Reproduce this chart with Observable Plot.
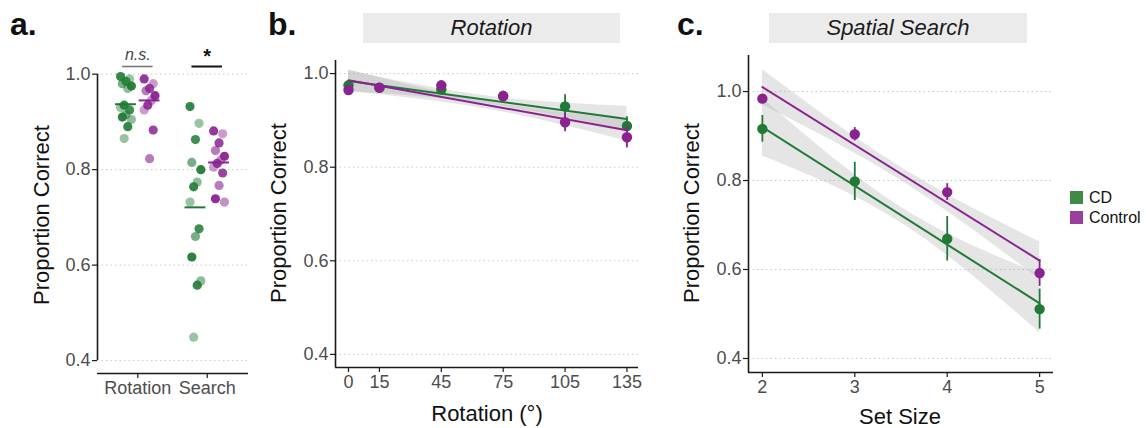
<!DOCTYPE html>
<html>
<head>
<meta charset="utf-8">
<script src="https://cdn.jsdelivr.net/npm/d3@7"></script>
<script src="https://cdn.jsdelivr.net/npm/@observablehq/plot@0.6"></script>
<style>
  html, body { margin: 0; padding: 0; background: #fff; }
  #wrap { position: relative; width: 1146px; height: 428px; overflow: hidden; font-family: "Liberation Sans", Arial, Helvetica, sans-serif; }
  #wrap svg { position: absolute; left: 0; top: 0; }
  .lbl { position: absolute; line-height: 1; white-space: nowrap; color: #111; }
  .panel { font-weight: bold; font-size: 32px; }
  .strip { position: absolute; background: #ebebeb; display: flex; align-items: center; justify-content: center; font-style: italic; font-size: 22px; color: #1a1a1a; }
  .ytitle { font-size: 22px; transform: translate(-50%, -50%) rotate(-90deg); }
  .xtitle { font-size: 22px; transform: translate(-50%, -50%); }
  .sw { position: absolute; width: 13px; height: 13px; }
  .leg { position: absolute; font-size: 16px; line-height: 1; transform: translateY(-50%); color: #111; }
</style>
</head>
<body>
<div id="wrap"></div>
<script>
// ---------------- DATA ----------------
const groups = ["CD", "Control"];
const categoriesA = ["Rotation", "Search"];
// panel a: individual participants' proportion correct
const cdRotation   = [0.995, 0.99, 0.985, 0.98, 0.975, 0.97, 0.935, 0.93, 0.925, 0.915, 0.91, 0.905, 0.89, 0.865];
const ctrlRotation = [0.99, 0.98, 0.97, 0.965, 0.955, 0.945, 0.935, 0.925, 0.883, 0.823];
const cdSearch     = [0.932, 0.897, 0.863, 0.815, 0.80, 0.774, 0.764, 0.732, 0.676, 0.66, 0.617, 0.567, 0.558, 0.449];
const ctrlSearch   = [0.881, 0.875, 0.856, 0.84, 0.828, 0.82, 0.813, 0.805, 0.793, 0.767, 0.739, 0.732];
const meansA = { CD: [0.937, 0.721], Control: [0.945, 0.815] };
const sigLabels = ["n.s.", "*"];

// panel b: rotation
const angles = [0, 15, 45, 75, 105, 135];
const cdRotMean   = [0.975, 0.97, 0.966, 0.952, 0.93, 0.888];
const cdRotErr    = [0.008, 0.006, 0.008, 0.010, 0.025, 0.020];
const ctrlRotMean = [0.965, 0.97, 0.975, 0.952, 0.896, 0.864];
const ctrlRotErr  = [0.007, 0.006, 0.008, 0.010, 0.020, 0.023];
const rotFitX = [0, 135];
const cdRotFit = [0.984, 0.903];
const ctrlRotFit = [0.986, 0.879];
const rotBandX = [0, 67.5, 135];
const cdRotBandLo = [0.962, 0.935, 0.878];
const cdRotBandHi = [1.006, 0.952, 0.930];
const ctrlRotBandLo = [0.962, 0.924, 0.856];
const ctrlRotBandHi = [1.008, 0.940, 0.902];

// panel c: spatial search
const setSizes = [2, 3, 4, 5];
const cdSearchMean   = [0.916, 0.798, 0.669, 0.511];
const cdSearchErr    = [0.030, 0.043, 0.050, 0.045];
const ctrlSearchMean = [0.984, 0.904, 0.774, 0.592];
const ctrlSearchErr  = [0.008, 0.015, 0.019, 0.030];
const searchFitX = [2, 5];
const cdSearchFit = [0.92, 0.524];
const ctrlSearchFit = [1.01, 0.62];
const searchBandX = [2, 3.5, 5];
const cdSearchBandLo = [0.855, 0.705, 0.458];
const cdSearchBandHi = [0.985, 0.740, 0.590];
const ctrlSearchBandLo = [0.970, 0.800, 0.578];
const ctrlSearchBandHi = [1.050, 0.830, 0.662];

const yTicks = [0.4, 0.6, 0.8, 1.0];

// ---------------- STYLE ----------------
const GREEN = "#207a36", PURPLE = "#8b2290";
const col = { CD: GREEN, Control: PURPLE };
const FONT = '"Liberation Sans", Arial, Helvetica, sans-serif';
const AX = "#1a1a1a", TICKTXT = "#4d4d4d", GRID = "#c8c8c8";
const W = 1146, H = 428;
const wrap = document.getElementById("wrap");
const fmt = d3.format(".1f");

function baseStyle() {
  return { fontFamily: FONT, background: "transparent", overflow: "visible" };
}
function yAxis() {
  return Plot.axisY(yTicks, { tickSize: 5, tickPadding: 2, tickFormat: fmt, fontSize: 18, stroke: AX, strokeWidth: 1.2, fill: TICKTXT, label: null });
}
function grid() {
  return Plot.ruleY(yTicks, { stroke: GRID, strokeDasharray: "1.5,3", strokeWidth: 1 });
}

// ---------------- PANEL A ----------------
(function () {
  const xDom = [0.42, 2.594], yDom = [0.373, 1.06];
  const jit = i => (((i * 5) % 7) - 3) * 0.026;
  const ops = [0.9, 0.45, 0.85, 0.6, 0.95, 0.5];
  const pts = [];
  const add = (vals, cat, grp) => vals.forEach((v, i) => pts.push({
    x: cat + (grp === "CD" ? -0.17 : 0.17) + jit(i), y: v, grp, op: ops[i % ops.length]
  }));
  add(cdRotation, 1, "CD"); add(ctrlRotation, 1, "Control");
  add(cdSearch, 2, "CD"); add(ctrlSearch, 2, "Control");
  const means = [];
  groups.forEach(g => meansA[g].forEach((m, i) => {
    const c = i + 1 + (g === "CD" ? -0.17 : 0.17);
    means.push({ x1: c - 0.15, x2: c + 0.15, y: m, grp: g });
  }));
  const sig = sigLabels.map((t, i) => ({ label: t, x1: i + 1 - 0.22, x2: i + 1 + 0.22, x: i + 1 }));
  const svg = Plot.plot({
    width: W, height: H,
    marginLeft: 97, marginRight: W - 248, marginTop: 45, marginBottom: 55,
    x: { domain: xDom }, y: { domain: yDom },
    opacity: { type: "identity" },
    style: baseStyle(),
    marks: [
      grid(),
      Plot.dot(pts.filter(d => d.grp === "CD"), { x: "x", y: "y", r: 4.6, fill: GREEN, fillOpacity: "op" }),
      Plot.dot(pts.filter(d => d.grp === "Control"), { x: "x", y: "y", r: 4.6, fill: PURPLE, fillOpacity: "op" }),
      Plot.ruleY(means, { x1: "x1", x2: "x2", y: "y", stroke: d => col[d.grp], strokeWidth: 2 }),
      Plot.ruleY(sig.slice(0, 1), { x1: "x1", x2: "x2", y: 1.016, stroke: "#777", strokeWidth: 1.6 }),
      Plot.ruleY(sig.slice(1), { x1: "x1", x2: "x2", y: 1.016, stroke: "#111", strokeWidth: 2 }),
      Plot.text(sig.slice(0, 1), { x: "x", y: 1.04, text: "label", fontSize: 16, fontStyle: "italic", fill: "#444" }),
      Plot.text(sig.slice(1), { x: "x", y: 1.036, text: "label", fontSize: 20, fontWeight: "bold", fill: "#111" }),
      Plot.ruleX([xDom[0]], { y1: 0.4, y2: 1.0, stroke: AX, strokeWidth: 1.6 }),
      Plot.ruleY([yDom[0]], { stroke: AX, strokeWidth: 1.6 }),
      yAxis(),
      Plot.axisX([1, 2], { tickSize: 5, tickPadding: 3, fontSize: 18, stroke: AX, strokeWidth: 1.2, fill: TICKTXT, tickFormat: d => categoriesA[d - 1], label: null })
    ]
  });
  wrap.appendChild(svg);
})();

// helper for line panels
function linePanel(opts) {
  const { xs, cdMean, cdErr, ctMean, ctErr, fitX, cdFit, ctFit, bandX, cdLo, cdHi, ctLo, ctHi, xDom, yDom, margins, xTicks } = opts;
  const pts = [];
  xs.forEach((x, i) => pts.push({ x, m: cdMean[i], e: cdErr[i], grp: "CD" }));
  xs.forEach((x, i) => pts.push({ x, m: ctMean[i], e: ctErr[i], grp: "Control" }));
  const band = (lo, hi) => bandX.map((x, i) => ({ x, lo: lo[i], hi: hi[i] }));
  const fit = (ys) => fitX.map((x, i) => ({ x, y: ys[i] }));
  const byG = g => pts.filter(d => d.grp === g);
  const marks = [
    grid(),
    Plot.areaY(band(cdLo, cdHi), { x: "x", y1: "lo", y2: "hi", fill: "#a8a8a8", fillOpacity: 0.3, curve: "natural" }),
    Plot.areaY(band(ctLo, ctHi), { x: "x", y1: "lo", y2: "hi", fill: "#a8a8a8", fillOpacity: 0.3, curve: "natural" })
  ];
  groups.forEach(g => {
    marks.push(
      Plot.line(fit(g === "CD" ? cdFit : ctFit), { x: "x", y: "y", stroke: col[g], strokeWidth: 2 }),
      Plot.ruleX(byG(g), { x: "x", y1: d => d.m - d.e, y2: d => d.m + d.e, stroke: col[g], strokeWidth: 1.8 }),
      Plot.dot(byG(g), { x: "x", y: "m", r: 5.2, fill: col[g] })
    );
  });
  marks.push(
    Plot.ruleX([xDom[0]], { stroke: AX, strokeWidth: 1.6 }),
    Plot.ruleY([yDom[0]], { stroke: AX, strokeWidth: 1.6 }),
    yAxis(),
    Plot.axisX(xTicks, { tickSize: 5, tickPadding: 3, fontSize: 18, stroke: AX, strokeWidth: 1.2, fill: TICKTXT, label: null })
  );
  const svg = Plot.plot({
    width: W, height: H,
    marginLeft: margins[0], marginRight: W - margins[1], marginTop: margins[2], marginBottom: H - margins[3],
    x: { domain: xDom }, y: { domain: yDom },
    style: baseStyle(),
    marks
  });
  wrap.appendChild(svg);
}

// ---------------- PANEL B ----------------
linePanel({
  xs: angles, cdMean: cdRotMean, cdErr: cdRotErr, ctMean: ctrlRotMean, ctErr: ctrlRotErr,
  fitX: rotFitX, cdFit: cdRotFit, ctFit: ctrlRotFit,
  bandX: rotBandX, cdLo: cdRotBandLo, cdHi: cdRotBandHi, ctLo: ctrlRotBandLo, ctHi: ctrlRotBandHi,
  xDom: [-6.3, 140.6], yDom: [0.372, 1.028], margins: [335, 638, 60, 367], xTicks: angles
});

// ---------------- PANEL C ----------------
linePanel({
  xs: setSizes, cdMean: cdSearchMean, cdErr: cdSearchErr, ctMean: ctrlSearchMean, ctErr: ctrlSearchErr,
  fitX: searchFitX, cdFit: cdSearchFit, ctFit: ctrlSearchFit,
  bandX: searchBandX, cdLo: cdSearchBandLo, cdHi: cdSearchBandHi, ctLo: ctrlSearchBandLo, ctHi: ctrlSearchBandHi,
  xDom: [1.85, 5.15], yDom: [0.3685, 1.081], margins: [748, 1053, 55, 372], xTicks: setSizes
});

// ---------------- TEXT / DECORATION ----------------
function div(cls, css, text) {
  const d = document.createElement("div");
  d.className = cls;
  Object.assign(d.style, css);
  if (text != null) d.textContent = text;
  wrap.appendChild(d);
  return d;
}
div("lbl panel", { left: "10px", top: "8px" }, "a.");
div("lbl panel", { left: "268px", top: "8px" }, "b.");
div("lbl panel", { left: "677px", top: "8px" }, "c.");
div("strip", { left: "363px", top: "13px", width: "257px", height: "30px" }, "Rotation");
div("strip", { left: "769px", top: "13px", width: "258px", height: "30px" }, "Spatial Search");
div("lbl ytitle", { left: "42px", top: "215px" }, "Proportion Correct");
div("lbl ytitle", { left: "279px", top: "213px" }, "Proportion Correct");
div("lbl ytitle", { left: "692px", top: "213px" }, "Proportion Correct");
div("lbl xtitle", { left: "487px", top: "414px" }, "Rotation (°)");
div("lbl xtitle", { left: "900px", top: "417px" }, "Set Size");
const legCols = { CD: "#3d8b45", Control: "#9a3e9e" };
groups.forEach((g, i) => {
  div("sw", { left: "1070px", top: (191 + i * 20) + "px", background: legCols[g] });
  div("leg", { left: "1089px", top: (197.5 + i * 20) + "px" }, g);
});
</script>
</body>
</html>
